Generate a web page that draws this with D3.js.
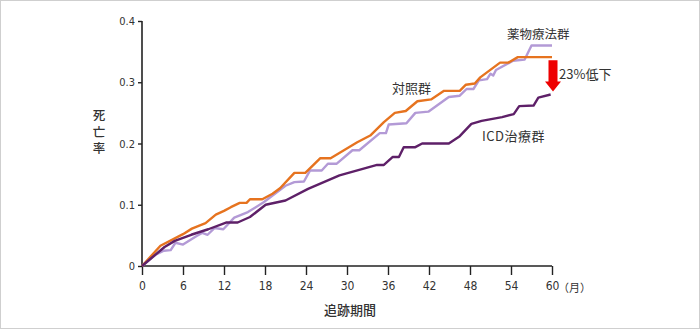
<!DOCTYPE html>
<html>
<head>
<meta charset="utf-8">
<script src="https://cdn.jsdelivr.net/npm/d3@7"></script>
<style>
  html, body { margin: 0; padding: 0; background: #fff; }
  svg { display: block; }
  .tick text { font-family: "Liberation Sans Narrow", "DejaVu Sans Condensed", sans-serif; fill: #333; }
  .jp { font-family: "Noto Sans CJK JP", sans-serif; fill: #333; }
</style>
</head>
<body>
<svg id="chart" width="700" height="330"></svg>
<script>
// Cumulative mortality by follow-up month: [month, rate]
const controlGroup = [
  [0,0],[2.7,0.033],[6,0.052],[7.3,0.061],[9.3,0.070],[10.8,0.084],[12,0.090],[13,0.096],
  [14.3,0.103],[15.3,0.103],[15.8,0.109],[17.6,0.109],[19.1,0.118],[20.2,0.127],[22.3,0.152],
  [23.9,0.152],[26.1,0.176],[27.6,0.176],[31.5,0.202],[33.4,0.213],[35.4,0.235],[37,0.250],
  [38.6,0.253],[40.3,0.269],[42.3,0.272],[44.2,0.286],[46.5,0.286],[47.4,0.296],[48.7,0.298],
  [49.5,0.308],[52.4,0.332],[53.6,0.332],[55,0.341],[60,0.341]
];
const drugGroup = [
  [0,0],[1.9,0.018],[3.2,0.025],[4.2,0.026],[4.9,0.038],[6,0.035],[8,0.049],[8.8,0.054],
  [9.6,0.051],[10.6,0.062],[11.9,0.060],[13.5,0.079],[15.5,0.088],[17.8,0.104],[21,0.131],
  [22.3,0.137],[23.7,0.138],[24.6,0.156],[26.3,0.156],[27.2,0.167],[28.5,0.167],[30.8,0.189],
  [31.8,0.189],[34.8,0.217],[35.7,0.217],[36.1,0.231],[38.7,0.233],[40,0.250],[41.9,0.252],
  [44.9,0.276],[46.5,0.278],[47.5,0.289],[48.5,0.289],[49.3,0.303],[50.5,0.305],[51,0.314],
  [51.4,0.311],[51.8,0.320],[54.3,0.335],[56,0.337],[57,0.360],[60,0.360]
];
const icdGroup = [
  [0,0],[3.3,0.031],[4.8,0.041],[7.2,0.051],[9.7,0.060],[12.3,0.071],[14,0.071],[15.8,0.080],
  [18.1,0.100],[21,0.107],[24.3,0.126],[28.9,0.148],[34.4,0.165],[35.4,0.165],[36.7,0.178],
  [37.6,0.178],[38.3,0.194],[40,0.194],[41,0.200],[44.9,0.200],[46.5,0.212],[48.2,0.232],
  [49.7,0.237],[52.7,0.243],[54.4,0.248],[55.2,0.261],[57.3,0.262],[58,0.275],[59.8,0.280]
];
const xTicks = [0, 6, 12, 18, 24, 30, 36, 42, 48, 54, 60];
const yTicks = [0, 0.1, 0.2, 0.3, 0.4];
const yTickLabels = ["0", "0.1", "0.2", "0.3", "0.4"];
const seriesNames = ["対照群", "薬物療法群", "ICD治療群"];
const reductionLabel = "23%低下";

const svg = d3.select("#chart");

// outer frame
svg.append("rect")
  .attr("x", 0.5).attr("y", 0.5).attr("width", 699).attr("height", 328)
  .attr("fill", "#fff").attr("stroke", "#cfcfcf");

const x = d3.scaleLinear().domain([0, 60]).range([142, 552]);
const y = d3.scaleLinear().domain([0, 0.4]).range([266, 21]);

// y axis
const yAxis = svg.append("g")
  .attr("transform", `translate(${x(0)},0)`)
  .call(d3.axisLeft(y).tickValues(yTicks).tickSize(4).tickPadding(3)
    .tickFormat((d, i) => yTickLabels[i]));
yAxis.select(".domain").attr("stroke", "#222").attr("stroke-width", 1.6)
  .attr("d", `M0,${y(0.4)}V${y(0)}`);
yAxis.selectAll(".tick line").attr("stroke", "#222").attr("stroke-width", 1.4);
yAxis.selectAll(".tick text").style("font-size", "11px");

// x axis
const xAxis = svg.append("g")
  .attr("transform", `translate(0,${y(0)})`)
  .call(d3.axisBottom(x).tickValues(xTicks).tickSize(9).tickPadding(6));
xAxis.select(".domain").attr("stroke", "#222").attr("stroke-width", 1.6)
  .attr("d", `M${x(0)},0H${x(60)}`);
xAxis.selectAll(".tick line").attr("stroke", "#222").attr("stroke-width", 1.4);
xAxis.selectAll(".tick text").style("font-size", "12px");

svg.append("text").attr("class", "jp")
  .attr("x", x(60) + 6).attr("y", y(0) + 26)
  .style("font-size", "11px").text("（月）");

// axis titles
svg.append("text").attr("class", "jp")
  .attr("x", 350).attr("y", 315).attr("text-anchor", "middle")
  .style("font-size", "13px").style("font-weight", "500").text("追跡期間");

// vertical y-axis title, set top to bottom
svg.append("text").attr("class", "jp")
  .attr("x", 99).attr("y", 109)
  .style("writing-mode", "vertical-rl")
  .style("font-size", "12.5px").style("font-weight", "500")
  .style("letter-spacing", "4px")
  .text("死亡率");

// lines
const line = d3.line().x(d => x(d[0])).y(d => y(d[1]));
const drawSeries = (data, color) => svg.append("path")
  .datum(data).attr("fill", "none").attr("stroke", color)
  .attr("stroke-width", 2.4).attr("stroke-linejoin", "round")
  .attr("d", line);
drawSeries(drugGroup, "#b39ad6");
drawSeries(controlGroup, "#e6731f");
drawSeries(icdGroup, "#5e2068");

// series labels
svg.append("text").attr("class", "jp").attr("x", 392).attr("y", 93)
  .style("font-size", "13px").text(seriesNames[0]);
svg.append("text").attr("class", "jp").attr("x", 507).attr("y", 39)
  .style("font-size", "12.5px").text(seriesNames[1]);
svg.append("text").attr("class", "jp").attr("x", 482).attr("y", 141)
  .style("font-size", "13px").style("letter-spacing", "0.5px").text(seriesNames[2]);

// reduction arrow between control and ICD endpoints
const lastCtrl = controlGroup[controlGroup.length - 1];
const lastIcd = icdGroup[icdGroup.length - 1];
const ax = x(60) + 1;
const aTop = y(lastCtrl[1]) + 3;
const aTip = y(lastIcd[1]) - 3;
const headH = 10;
svg.append("path")
  .attr("fill", "#ee0000")
  .attr("d", `M${ax - 4.5},${aTop}H${ax + 4.5}V${aTip - headH}H${ax + 8}L${ax},${aTip}L${ax - 8},${aTip - headH}H${ax - 4.5}Z`);
svg.append("text").attr("class", "jp").attr("x", 559).attr("y", 79)
  .style("font-size", "13px").text(reductionLabel);
</script>
</body>
</html>
